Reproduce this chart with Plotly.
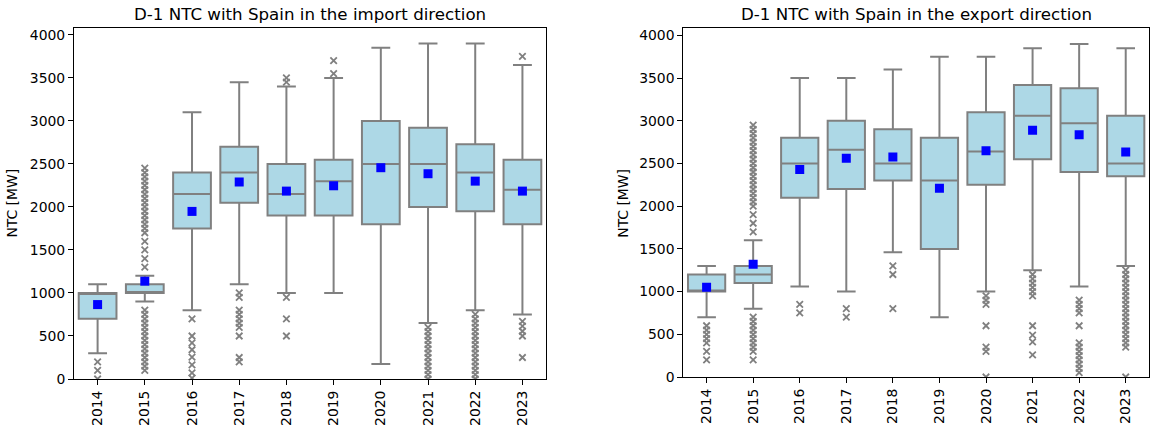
import plotly.graph_objects as go

years = ["2014", "2015", "2016", "2017", "2018", "2019", "2020", "2021", "2022", "2023"]

# Import direction (left panel)
imp_q1 = [700, 1000, 1750, 2050, 1900, 1900, 1800, 2000, 1950, 1800]
imp_median = [1000, 1000, 2150, 2400, 2150, 2300, 2500, 2500, 2400, 2200]
imp_q3 = [1000, 1100, 2400, 2700, 2500, 2550, 3000, 2920, 2730, 2550]
imp_low = [300, 900, 800, 1100, 1000, 1000, 175, 650, 800, 750]
imp_high = [1100, 1200, 3100, 3450, 3400, 3500, 3850, 3900, 3900, 3650]
imp_mean = [865, 1137, 1948, 2290, 2184, 2246, 2456, 2386, 2300, 2184]
imp_outliers = [
    [200, 100, 0],
    [1300, 1400, 1500, 1600, 1700, 1750, 1800, 1850, 1900, 1950, 2000, 2050, 2100, 2150,
     2200, 2250, 2300, 2350, 2400, 2450,
     800, 750, 700, 650, 600, 550, 500, 450, 400, 350, 300, 250, 200, 150, 100],
    [700, 500, 420, 340, 255, 165, 70, 10],
    [1000, 950, 800, 750, 700, 650, 600, 500, 250, 200],
    [3500, 3450, 950, 700, 500],
    [3700, 3550],
    [],
    [600, 550, 500, 450, 400, 350, 300, 250, 200, 150, 100, 50, 0],
    [750, 700, 650, 600, 550, 500, 450, 400, 350, 300, 250, 200, 150, 100, 50, 0],
    [3750, 670, 615, 555, 500, 250],
]

# Export direction (right panel)
exp_q1 = [1000, 1100, 2100, 2200, 2300, 1500, 2250, 2550, 2400, 2350]
exp_median = [1000, 1200, 2500, 2660, 2500, 2300, 2640, 3060, 2970, 2500]
exp_q3 = [1200, 1300, 2800, 3000, 2900, 2800, 3100, 3420, 3380, 3060]
exp_low = [700, 800, 1060, 1000, 1460, 700, 1000, 1250, 1060, 1300]
exp_high = [1300, 1600, 3500, 3500, 3600, 3750, 3750, 3850, 3900, 3850]
exp_mean = [1050, 1320, 2430, 2560, 2575, 2210, 2648, 2890, 2836, 2633]
exp_outliers = [
    [600, 550, 500, 450, 400, 300, 200],
    [1700, 1800, 1900, 2000, 2050, 2100, 2150, 2200, 2250, 2300, 2350, 2400, 2450, 2500,
     2550, 2600, 2650, 2700, 2750, 2800, 2850, 2900, 2950,
     700, 650, 600, 550, 500, 450, 400, 350, 300, 200],
    [850, 750],
    [800, 700],
    [1300, 1200, 800],
    [],
    [950, 900, 850, 600, 350, 300, 0],
    [1200, 1150, 1100, 1050, 1000, 950, 600, 490, 410, 260],
    [900, 850, 800, 750, 600, 400, 350, 300, 250, 200, 150, 100, 50],
    [1250, 1200, 1150, 1100, 1050, 1000, 950, 900, 850, 800, 750, 700, 650, 600, 550,
     500, 450, 400, 350, 0],
]

titles = ["D-1 NTC with Spain in the import direction",
          "D-1 NTC with Spain in the export direction"]
y_label = "NTC [MW]"

FONT = "DejaVu Sans"
GRAY = "#808080"
BOXFILL = "#add8e6"

fig = go.Figure()

panels = [
    (imp_q1, imp_median, imp_q3, imp_low, imp_high, imp_mean, imp_outliers, "x", "y"),
    (exp_q1, exp_median, exp_q3, exp_low, exp_high, exp_mean, exp_outliers, "x2", "y2"),
]

for q1, med, q3, lo, hi, mean, outl, xa, ya in panels:
    fig.add_trace(go.Box(
        x=years, q1=q1, median=med, q3=q3, lowerfence=lo, upperfence=hi,
        boxpoints=False, width=0.8, whiskerwidth=0.5,
        fillcolor=BOXFILL, line=dict(color=GRAY, width=2),
        xaxis=xa, yaxis=ya, showlegend=False, hoverinfo="skip",
    ))
    ox, oy = [], []
    for yr, vals in zip(years, outl):
        for v in vals:
            ox.append(yr)
            oy.append(v)
    fig.add_trace(go.Scatter(
        x=ox, y=oy, mode="markers",
        marker=dict(symbol="x-thin", size=6.5, color=GRAY, line=dict(color=GRAY, width=1.8)),
        xaxis=xa, yaxis=ya, showlegend=False, hoverinfo="skip",
    ))
    fig.add_trace(go.Scatter(
        x=years, y=mean, mode="markers",
        marker=dict(symbol="square", size=9, color="#0000ff"),
        xaxis=xa, yaxis=ya, showlegend=False, hoverinfo="skip",
    ))

axis_common = dict(
    showline=True, mirror=True, linecolor="black", linewidth=1,
    ticks="outside", ticklen=5, tickcolor="black", tickwidth=1,
    showgrid=False, zeroline=False,
    tickfont=dict(family=FONT, size=13.9, color="black"),
)

fig.update_layout(
    width=1150, height=430,
    margin=dict(l=74, r=1, t=28, b=51),
    paper_bgcolor="white", plot_bgcolor="white",
    font=dict(family=FONT, color="black"),
    xaxis=dict(domain=[0, 0.4391], type="category", range=[-0.5, 9.5],
               tickangle=-90, anchor="y", **axis_common),
    yaxis=dict(domain=[0, 1], range=[0, 4080], tickvals=[0, 500, 1000, 1500, 2000, 2500, 3000, 3500, 4000],
               anchor="x", **axis_common),
    xaxis2=dict(domain=[0.5668, 1.0], type="category", range=[-0.5, 9.5],
                tickangle=-90, anchor="y2", **axis_common),
    yaxis2=dict(domain=[0.0057, 1], range=[0, 4086], tickvals=[0, 500, 1000, 1500, 2000, 2500, 3000, 3500, 4000],
                anchor="x2", **axis_common),
    boxgap=0.2,
)

fig.add_annotation(text=titles[0], xref="paper", yref="paper", x=0.2195, y=1,
                   yanchor="bottom", xanchor="center", yshift=2, showarrow=False,
                   font=dict(family=FONT, size=16.67, color="black"))
fig.add_annotation(text=titles[1], xref="paper", yref="paper", x=0.7834, y=1,
                   yanchor="bottom", xanchor="center", yshift=2, showarrow=False,
                   font=dict(family=FONT, size=16.67, color="black"))
fig.add_annotation(text=y_label, xref="paper", yref="paper", x=-0.0585, y=0.5,
                   textangle=-90, xanchor="center", yanchor="middle", showarrow=False,
                   font=dict(family=FONT, size=13.9, color="black"))
fig.add_annotation(text=y_label, xref="paper", yref="paper", x=0.5100, y=0.5,
                   textangle=-90, xanchor="center", yanchor="middle", showarrow=False,
                   font=dict(family=FONT, size=13.9, color="black"))

fig.write_html(
    "out.html",
    config={"displayModeBar": False, "staticPlot": True},
    post_script="document.body.style.margin='0';document.body.style.overflow='hidden';",
)
